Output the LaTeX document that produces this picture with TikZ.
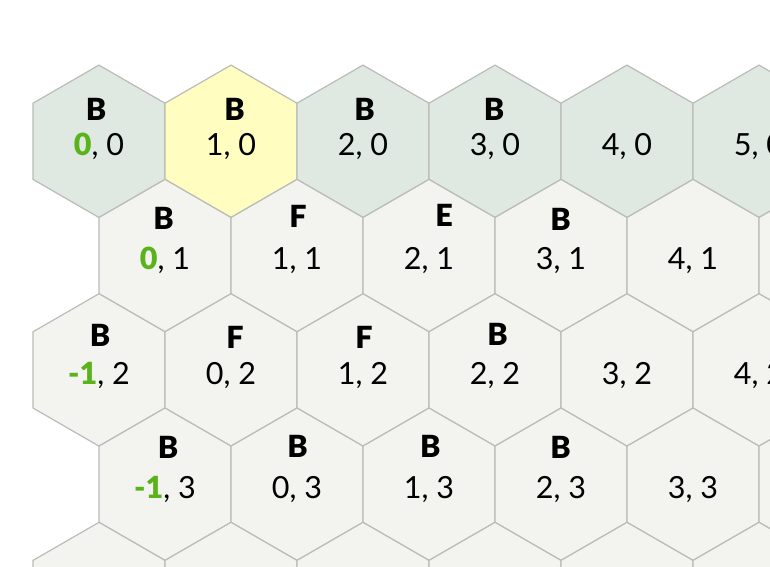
\documentclass[tikz,border=0pt]{standalone}
\usepackage{fontspec}
\setmainfont{Lato}
\IfFontExistsTF{Lato Black}{\newfontfamily\heavyfont{Lato Black}}{\newfontfamily\heavyfont[FakeBold=1.2]{Lato Bold}}
\definecolor{rowzero}{HTML}{DFE9E1}
\definecolor{hl}{HTML}{FFFDC0}
\definecolor{cellbg}{HTML}{F3F3EF}
\definecolor{edge}{HTML}{BBBBB8}
\definecolor{qgreen}{HTML}{5BB31B}
\tikzset{
  hexcell/.style={draw=edge, line width=1.2pt, line join=miter},
  coordlbl/.style={anchor=base, inner sep=0pt, font=\fontsize{30.5}{36}\selectfont},
  letterlbl/.style={anchor=base, inner sep=0pt, font=\fontsize{30.5}{36}\selectfont\heavyfont},
}
\begin{document}
\begin{tikzpicture}[x=1pt,y=-1pt]
\path[use as bounding box, fill=white] (0,0) rectangle (770,566);
\begin{scope}
\clip (0,0) rectangle (770,566);
\foreach \r in {0,...,4} {
  \foreach \k in {0,...,5} {
    \pgfmathsetmacro\cx{99+132*\k+66*mod(\r,2)}
    \pgfmathsetmacro\cy{141.3+114.3*\r}
    \pgfmathtruncatemacro\q{\k-floor(\r/2)}
    \ifnum\r=0
      \ifnum\k=1 \def\fc{hl}\else\def\fc{rowzero}\fi
    \else \def\fc{cellbg}\fi
    \path[hexcell, fill=\fc] (\cx,\cy-76.2) -- (\cx+66,\cy-38.1) -- (\cx+66,\cy+38.1)
      -- (\cx,\cy+76.2) -- (\cx-66,\cy+38.1) -- (\cx-66,\cy-38.1) -- cycle;
    \ifnum\k=0
      \ifnum\r<4
        \node[coordlbl] (c-\k-\r) at (\cx,\cy+14.2) {{\heavyfont\color{qgreen}\q}, \r};
      \else
        \node[coordlbl] (c-\k-\r) at (\cx,\cy+14.2) {\q, \r};
      \fi
    \else
      \node[coordlbl] (c-\k-\r) at (\cx,\cy+14.2) {\q, \r};
    \fi
  }
}
\foreach \k/\r/\L/\dx/\dy in {
  0/0/B/-3/-32.3, 1/0/B/3.6/-32.3, 2/0/B/1.5/-32.3, 3/0/B/-1/-32.3,
  0/1/B/-1.3/-37.6, 1/1/F/1/-39.6, 2/1/E/15/-40, 3/1/B/-0.5/-36.6,
  0/2/B/1/-34.4, 1/2/F/4/-32, 2/2/F/1/-32, 3/2/B/2.5/-35,
  0/3/B/3/-36.7, 1/3/B/0.5/-38, 2/3/B/1.3/-38, 3/3/B/-0.5/-36.7} {
  \pgfmathsetmacro\cx{99+132*\k+66*mod(\r,2)+\dx}
  \pgfmathsetmacro\cy{141.3+114.3*\r+\dy+11}
  \node[letterlbl] (l-\k-\r) at (\cx,\cy) {\L};
}
\end{scope}
\end{tikzpicture}
\end{document}
